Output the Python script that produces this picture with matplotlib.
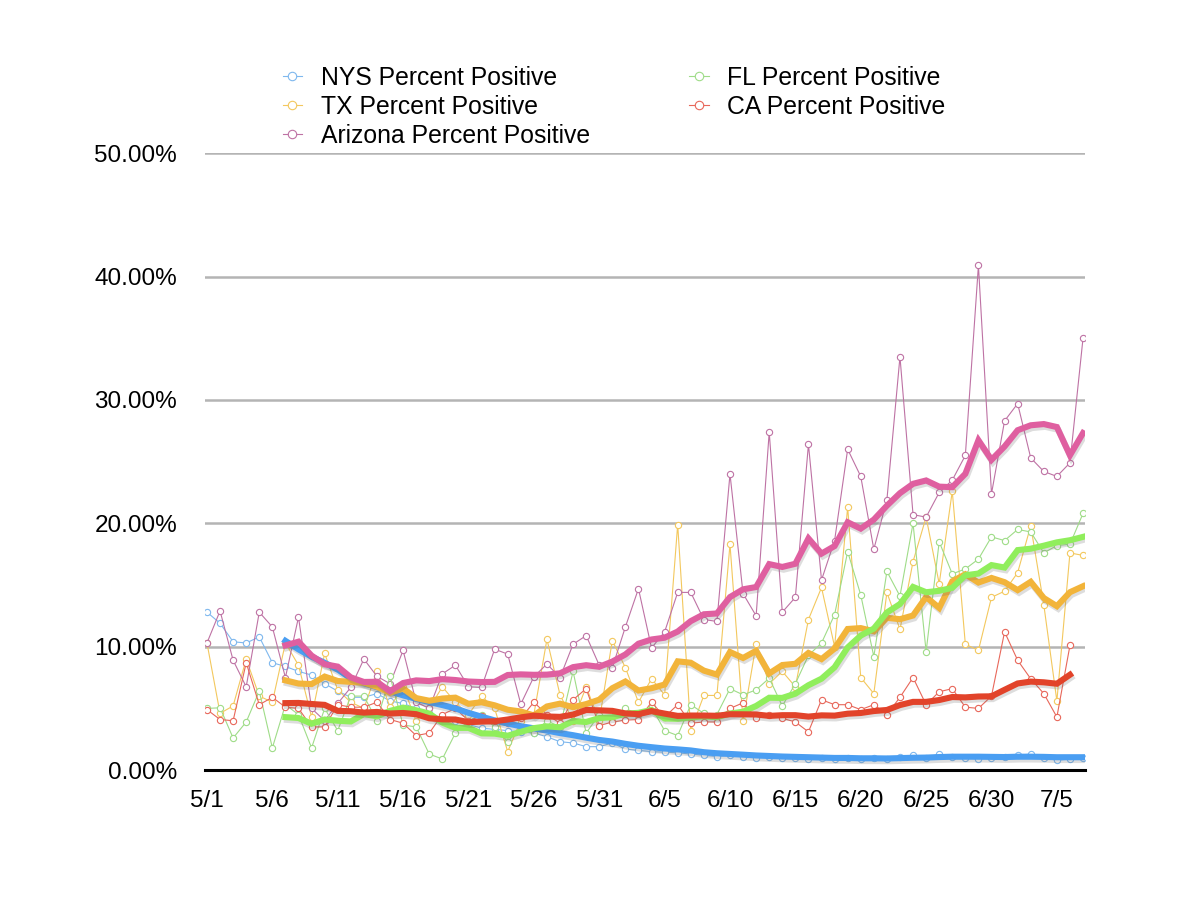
import matplotlib
matplotlib.use('Agg')
import matplotlib.pyplot as plt
import matplotlib.patheffects as pe
import numpy as np
import pandas as pd

# daily percent positive, 5/1 .. 7/7
dates = pd.date_range('2020-05-01', '2020-07-07')

nys = [12.8, 11.9, 10.4, 10.3, 10.8, 8.7, 8.4, 8.0, 7.7, 7.0,
       6.4, 5.9, 5.9, 6.2, 5.6, 5.4, 5.0, 4.6, 4.2, 4.0,
       3.7, 3.4, 3.3, 3.2, 3.1, 3.0, 2.7, 2.3, 2.2, 1.9,
       1.9, 2.2, 1.7, 1.6, 1.5, 1.45, 1.4, 1.3, 1.2, 1.1,
       1.2, 1.1, 1.0, 1.1, 1.0, 1.0, 0.9, 1.0, 0.9, 1.0,
       0.9, 1.0, 0.9, 1.1, 1.2, 1.0, 1.3, 1.1, 1.0, 0.9,
       1.0, 1.1, 1.2, 1.3, 1.0, 0.8, 0.9, 1.0]

tx = [10.3, 4.6, 5.2, 9.0, 6.0, 5.5, 10.3, 8.5, 4.3, 9.45,
      6.5, 5.5, 5.0, 8.0, 5.1, 6.75, 4.0, 5.0, 6.75, 5.5,
      4.5, 6.0, 5.0, 1.5, 4.0, 4.5, 10.6, 6.1, 4.0, 6.75,
      4.0, 10.5, 8.3, 5.5, 7.4, 6.1, 19.9, 3.2, 6.05, 6.05,
      18.3, 4.0, 10.2, 7.0, 8.0, 6.75, 12.2, 14.8, 10.0, 21.3,
      7.5, 6.2, 14.4, 11.4, 16.9, 20.5, 15.1, 22.6, 10.2, 9.7,
      14.0, 14.5, 16.0, 19.8, 13.4, 5.6, 17.6, 17.4]

arizona = [10.3, 12.9, 8.9, 6.75, 12.8, 11.6, 7.5, 12.4, 5.0, 4.0,
           5.4, 6.7, 9.0, 7.6, 7.0, 9.7, 5.5, 5.0, 7.8, 8.5,
           6.75, 6.7, 9.8, 9.4, 5.35, 7.56, 8.6, 7.5, 10.2, 10.9,
           8.5, 8.3, 11.6, 14.7, 9.9, 11.2, 14.4, 14.4, 12.2, 12.05,
           24.0, 14.3, 12.5, 27.4, 12.8, 14.0, 26.4, 15.4, 18.6, 26.0,
           23.8, 17.9, 21.9, 33.5, 20.7, 20.5, 22.5, 23.5, 25.5, 40.9,
           22.4, 28.3, 29.7, 25.3, 24.2, 23.8, 24.9, 35.0]

fl = [5.0, 5.05, 2.6, 3.9, 6.4, 1.8, 5.3, 4.5, 1.8, 5.0,
      3.2, 6.0, 6.0, 4.0, 7.6, 3.65, 3.5, 1.3, 0.9, 3.0,
      4.0, 4.5, 3.5, 2.3, 3.5, 3.0, 4.0, 3.5, 8.0, 3.0,
      4.5, 4.0, 5.0, 4.5, 5.1, 3.2, 2.8, 5.3, 4.6, 4.5,
      6.6, 6.1, 6.5, 7.45, 5.2, 7.0, 9.3, 10.3, 12.6, 17.7,
      14.2, 9.2, 16.1, 14.1, 20.0, 9.6, 18.5, 15.9, 16.3, 17.1,
      18.9, 18.6, 19.5, 19.3, 17.6, 18.2, 18.3, 20.8]

ca = [4.9, 4.1, 4.0, 8.7, 5.3, 5.9, 5.1, 5.0, 3.5, 3.5,
      5.3, 5.1, 5.1, 5.5, 4.1, 3.8, 2.8, 3.0, 4.5, 5.0,
      4.0, 4.4, 4.0, 3.8, 4.2, 5.5, 4.5, 3.8, 5.7, 6.6,
      3.6, 3.9, 4.05, 4.1, 5.5, 4.3, 5.3, 3.8, 3.9, 3.9,
      5.0, 5.45, 4.2, 4.5, 4.2, 3.9, 3.1, 5.7, 5.3, 5.3,
      4.9, 5.3, 4.5, 5.9, 7.5, 5.3, 6.35, 6.6, 5.1, 5.0,
      6.0, 11.2, 8.9, 7.4, 6.2, 4.3, 10.1, np.nan]

labels = ['NYS Percent Positive', 'TX Percent Positive', 'Arizona Percent Positive',
          'FL Percent Positive', 'CA Percent Positive']
thin_colors = ['#7fb8ee', '#f3c85e', '#be72a4', '#9fdc88', '#e8675a']
thick_colors = ['#4a9ef2', '#f2b43a', '#df5fa0', '#90ee5c', '#e2432a']

plt.rcParams['font.family'] = ['Liberation Sans', 'DejaVu Sans']

fig = plt.figure(figsize=(11.94, 9.06), dpi=100)
ax = fig.add_axes([0.1717, 0.150, 0.737, 0.681])

x = np.arange(len(dates))
series = [nys, tx, arizona, fl, ca]

handles = []
for vals, c, lab in zip(series, thin_colors, labels):
    h, = ax.plot(x, vals, color=c, lw=0.8, marker='o', ms=4.5, mfc='white',
                 mec=c, mew=0.8, label=lab, zorder=2)
    handles.append(h)

# 7-day moving average trendlines
shadow = [pe.SimpleLineShadow(offset=(1.0, -2.0), shadow_color='#666666', alpha=0.22),
          pe.Normal()]
for idx in [2, 1, 4, 3, 0]:
    ma = pd.Series(series[idx]).rolling(7).mean()
    ax.plot(x, ma, color=thick_colors[idx], lw=4.4, solid_joinstyle='miter',
            path_effects=shadow, zorder=3 + idx)

ax.set_xlim(-0.15, 67.15)
ax.set_ylim(0, 50)
ax.set_yticks([0, 10, 20, 30, 40, 50])
ax.set_yticklabels(['%.2f%%' % v for v in [0, 10, 20, 30, 40, 50]])
ticks = list(range(0, len(dates), 5))
ax.set_xticks(ticks)
ax.set_xticklabels([f'{dates[i].month}/{dates[i].day}' for i in ticks])

for y in [10, 20, 30, 40, 50]:
    ax.axhline(y, color='#b4b4b4', lw=1.8, zorder=1)

for s in ['top', 'right', 'left']:
    ax.spines[s].set_visible(False)
ax.spines['bottom'].set_linewidth(2.2)
ax.spines['bottom'].set_color('black')
ax.tick_params(axis='both', length=0, labelsize=17.5)
ax.tick_params(axis='x', pad=14)
ax.tick_params(axis='y', pad=20)

fig.legend(handles=handles, loc='upper left', bbox_to_anchor=(0.218, 0.952),
           ncol=2, frameon=False, fontsize=17.8, handlelength=0.8,
           handletextpad=0.75, labelspacing=0.2, columnspacing=4.0,
           markerscale=1.35)

fig.savefig('out.png', dpi=100)
